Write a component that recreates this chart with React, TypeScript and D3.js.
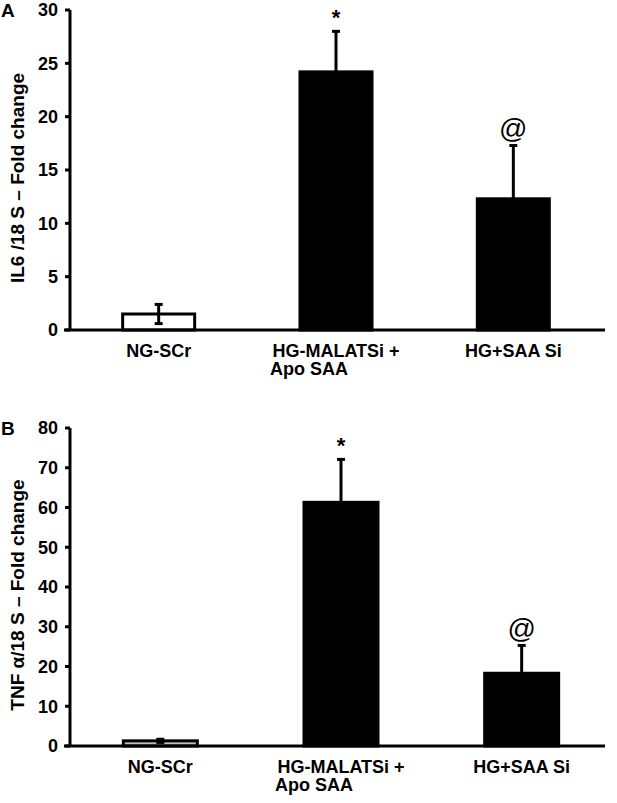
import React from "react";
import * as d3 from "d3";

// groups on the x axis
const categories = ["NG-SCr", "HG-MALATSi +\nApo SAA", "HG+SAA Si"];

// panel A: IL6 / 18S fold change
const il6Means = [1.5, 24.2, 12.3];
const il6Errors = [0.9, 3.8, 5.0];
const il6Marks = ["", "*", "@"];
const il6Ticks = [0, 5, 10, 15, 20, 25, 30];

// panel B: TNF alpha / 18S fold change
const tnfMeans = [1.3, 61.3, 18.3];
const tnfErrors = [0.4, 10.8, 7.0];
const tnfMarks = ["", "*", "@"];
const tnfTicks = [0, 10, 20, 30, 40, 50, 60, 70, 80];

const barFills = ["#ffffff", "#000000", "#000000"];
const barFillsB = ["#bdbdbd", "#000000", "#000000"];

const FONT = "'Liberation Sans', Arial, sans-serif";

interface PanelProps {
  letter: string;
  title: string;
  means: number[];
  errors: number[];
  marks: string[];
  ticks: number[];
  fills: string[];
  yTop: number;
  yBottom: number;
  xRight: number;
  barWidth: number;
}

const Panel = (p: PanelProps) => {
  const left = 70;
  const y = d3
    .scaleLinear()
    .domain([0, p.ticks[p.ticks.length - 1]])
    .range([p.yBottom, p.yTop]);
  const x = d3.scalePoint<string>().domain(categories).range([left, p.xRight]).padding(0.5);
  const titleMid = (p.yTop + p.yBottom) / 2 + 8;

  return (
    <g>
      <text x={1} y={p.yTop + 7} fontSize={19} fontWeight="bold" fontFamily={FONT}>
        {p.letter}
      </text>
      <text
        transform={`translate(24,${titleMid}) rotate(-90)`}
        textAnchor="middle"
        fontSize={19}
        fontWeight="bold"
        fontFamily={FONT}
      >
        {p.title}
      </text>

      {/* bars */}
      {categories.map((c, i) => {
        const cx = x(c) as number;
        const top = y(p.means[i]);
        return (
          <rect
            key={c}
            x={cx - p.barWidth / 2}
            y={top}
            width={p.barWidth}
            height={p.yBottom - top}
            fill={p.fills[i]}
            stroke="#000"
            strokeWidth={3}
          />
        );
      })}

      {/* error bars */}
      {categories.map((c, i) => {
        const cx = x(c) as number;
        const hi = y(p.means[i] + p.errors[i]);
        const lo = y(Math.max(0, p.means[i] - p.errors[i]));
        return (
          <g key={c} stroke="#000" strokeWidth={3}>
            <line x1={cx} x2={cx} y1={hi} y2={lo} />
            <line x1={cx - 4} x2={cx + 4} y1={hi} y2={hi} />
            <line x1={cx - 4} x2={cx + 4} y1={lo} y2={lo} />
          </g>
        );
      })}

      {/* significance marks */}
      {categories.map((c, i) => {
        if (!p.marks[i]) return null;
        const cx = x(c) as number;
        const hi = y(p.means[i] + p.errors[i]);
        const isAt = p.marks[i] === "@";
        return (
          <text
            key={c}
            x={cx}
            y={isAt ? hi - 7 : hi - 6}
            textAnchor="middle"
            fontSize={isAt ? 28 : 22}
            fontWeight={isAt ? "normal" : "bold"}
            fontFamily={FONT}
          >
            {p.marks[i]}
          </text>
        );
      })}

      {/* axes */}
      <line x1={left} x2={left} y1={p.yTop} y2={p.yBottom} stroke="#000" strokeWidth={3} />
      <line x1={left - 6} x2={605} y1={p.yBottom} y2={p.yBottom} stroke="#000" strokeWidth={3} />
      {p.ticks.map((t) => (
        <g key={t}>
          <line x1={left - 5} x2={left} y1={y(t)} y2={y(t)} stroke="#000" strokeWidth={3} />
          <text
            x={left - 12}
            y={y(t)}
            dy="0.35em"
            textAnchor="end"
            fontSize={18}
            fontWeight="bold"
            fontFamily={FONT}
          >
            {t}
          </text>
        </g>
      ))}
      {categories.map((c) => {
        const lines = c.split("\n");
        const cx = x(c) as number;
        return (
          <text
            key={c}
            x={cx}
            y={p.yBottom + 27}
            textAnchor="middle"
            fontSize={18}
            fontWeight="bold"
            fontFamily={FONT}
          >
            {lines.map((l, k) => (
              <tspan key={k} x={k === 0 ? cx : cx - 27} dy={k === 0 ? 0 : 18}>
                {l}
              </tspan>
            ))}
          </text>
        );
      })}
    </g>
  );
};

export default function App() {
  return (
    <svg
      width={617}
      height={803}
      style={{ position: "absolute", left: 0, top: 0, background: "#fff" }}
    >
      <rect width={617} height={803} fill="#fff" />
      <Panel
        letter="A"
        title="IL6 /18 S – Fold change"
        means={il6Means}
        errors={il6Errors}
        marks={il6Marks}
        ticks={il6Ticks}
        fills={barFills}
        yTop={10}
        yBottom={330}
        xRight={602}
        barWidth={72}
      />
      <Panel
        letter="B"
        title="TNF α/18 S – Fold change"
        means={tnfMeans}
        errors={tnfErrors}
        marks={tnfMarks}
        ticks={tnfTicks}
        fills={barFillsB}
        yTop={428}
        yBottom={746}
        xRight={612}
        barWidth={74}
      />
    </svg>
  );
}
